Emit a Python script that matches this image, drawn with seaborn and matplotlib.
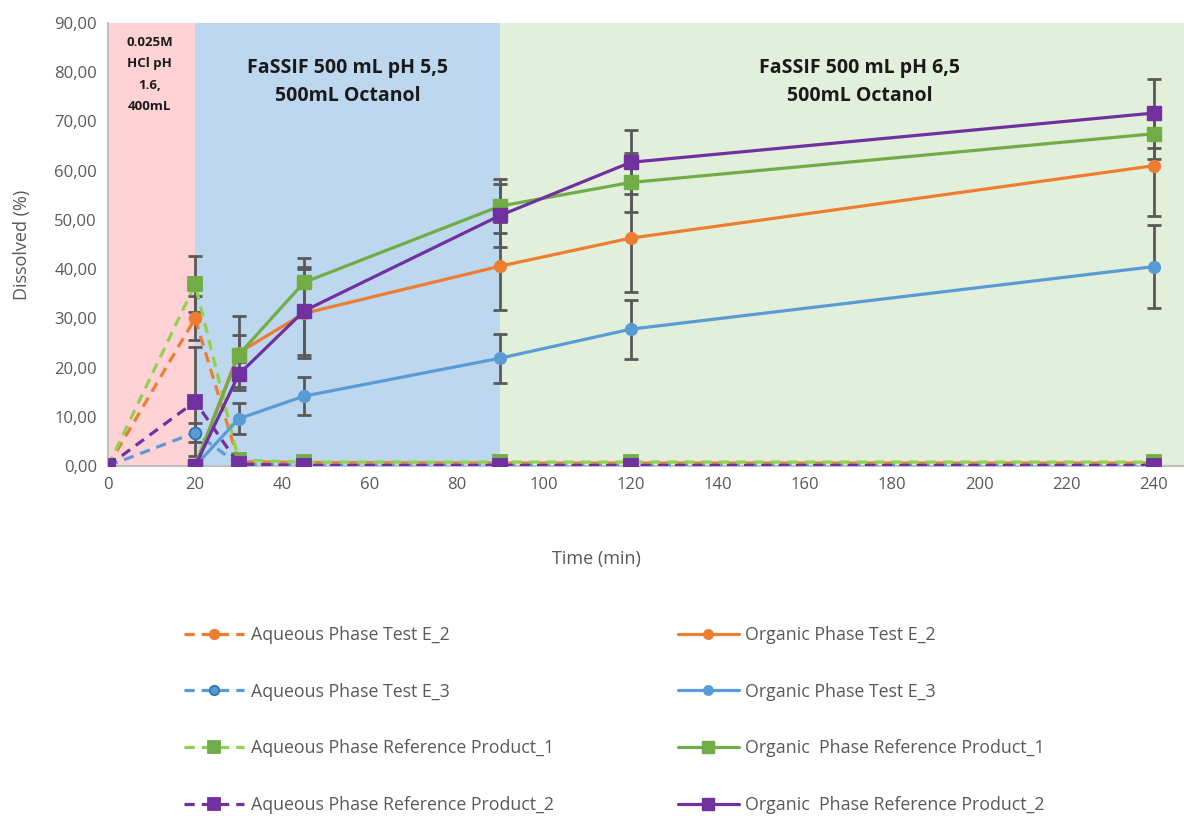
import matplotlib
matplotlib.use("Agg")
import matplotlib.pyplot as plt
import seaborn as sns
import numpy as np
import pandas as pd
from matplotlib.ticker import FuncFormatter

# ---------------- data ----------------
t_aq = [0, 20, 30, 45, 90, 120, 240]
t_org = [20, 30, 45, 90, 120, 240]

aq_e2 = [0, 30.0, 0.9, 0.7, 0.6, 0.6, 0.6]
aq_e3 = [0, 6.8, 0.3, 0.2, 0.2, 0.2, 0.2]
aq_r1 = [0, 36.9, 1.2, 0.8, 0.8, 0.8, 0.8]
aq_r2 = [0, 13.1, 0.4, 0.1, 0.1, 0.1, 0.1]

aq_e2_err = [0, 4.5, 0.2, 0.1, 0.1, 0.1, 0.1]
aq_e3_err = [0, 1.9, 0.1, 0.1, 0.1, 0.1, 0.1]
aq_r1_err = [0, 5.7, 0.2, 0.1, 0.1, 0.1, 0.1]
aq_r2_err = [0, 11.0, 0.1, 0.1, 0.1, 0.1, 0.1]

org_e2 = [0, 23.0, 31.0, 40.6, 46.3, 61.0]
org_e3 = [0, 9.6, 14.2, 21.9, 27.8, 40.5]
org_r1 = [0, 22.6, 37.3, 52.8, 57.6, 67.5]
org_r2 = [0, 18.6, 31.5, 50.9, 61.7, 71.7]

org_e2_err = [0, 7.5, 9.0, 9.0, 11.0, 10.3]
org_e3_err = [0, 3.1, 3.9, 5.0, 6.0, 8.4]
org_r1_err = [0, 4.0, 5.0, 5.5, 6.0, 5.2]
org_r2_err = [0, 2.5, 9.0, 6.4, 6.5, 7.0]

labels_aq = ["Aqueous Phase Test E_2", "Aqueous Phase Test E_3",
             "Aqueous Phase Reference Product_1", "Aqueous Phase Reference Product_2"]
labels_org = ["Organic Phase Test E_2", "Organic Phase Test E_3",
              "Organic  Phase Reference Product_1", "Organic  Phase Reference Product_2"]

phase_edges = [0, 20, 90, 247]
phase_colors = ["#FFD3D6", "#BDD7EE", "#E2EFDA"]

x_ticks = list(range(0, 241, 20))
y_ticks = list(range(0, 91, 10))

# ---------------- style ----------------
sns.set_theme(style="white")
plt.rcParams['font.family'] = ['Open Sans', 'DejaVu Sans']
txt = "#595959"

fig = plt.figure(figsize=(11.84, 8.16), dpi=100)
ax = fig.add_axes([108/1184, 1-466/816, 1-108/1184, (466-23)/816])

for i in range(3):
    ax.axvspan(phase_edges[i], phase_edges[i+1], color=phase_colors[i], lw=0, zorder=0)

errc = "#595959"

aq_series = [
    (aq_e2, aq_e2_err, "#ED7D31", "o", "#ED7D31", "#ED7D31", 8.5),
    (aq_e3, aq_e3_err, "#5B9BD5", "o", "#5B9BD5", "#2E75B6", 8.5),
    (aq_r1, aq_r1_err, "#92D050", "s", "#70AD47", "#70AD47", 10.5),
    (aq_r2, aq_r2_err, "#7030A0", "s", "#7030A0", "#7030A0", 10),
]
org_series = [
    (org_e2, org_e2_err, "#ED7D31", "o", "#ED7D31", "#ED7D31", 8.5),
    (org_e3, org_e3_err, "#5B9BD5", "o", "#5B9BD5", "#5B9BD5", 8.5),
    (org_r1, org_r1_err, "#70AD47", "s", "#70AD47", "#70AD47", 10.5),
    (org_r2, org_r2_err, "#7030A0", "s", "#7030A0", "#7030A0", 10),
]

for (y, e, c, m, mc, me, ms) in aq_series:
    ax.errorbar(t_aq, y, yerr=e, fmt="none", ecolor=errc, elinewidth=2, capsize=5, capthick=2, zorder=2)
for (y, e, c, m, mc, me, ms) in org_series:
    ax.errorbar(t_org, y, yerr=e, fmt="none", ecolor=errc, elinewidth=2, capsize=5, capthick=2, zorder=2)

for (y, e, c, m, mc, me, ms), lab in zip(aq_series, labels_aq):
    df = pd.DataFrame({"t": t_aq, "v": y})
    sns.lineplot(data=df, x="t", y="v", ax=ax, color=c, lw=2.3, linestyle=(0, (3.2, 2.2)),
                 marker=m, markersize=ms, markerfacecolor=mc,
                 markeredgecolor=me, markeredgewidth=1.3, zorder=3, label=lab)
for (y, e, c, m, mc, me, ms), lab in zip(org_series, labels_org):
    df = pd.DataFrame({"t": t_org, "v": y})
    sns.lineplot(data=df, x="t", y="v", ax=ax, color=c, lw=2.3,
                 marker=m, markersize=ms, markerfacecolor=mc,
                 markeredgecolor=me, markeredgewidth=1, zorder=4, label=lab)

ax.set_xlim(0, 247)
ax.set_ylim(0, 90)
ax.set_xticks(x_ticks)
ax.set_yticks(y_ticks)
ax.yaxis.set_major_formatter(FuncFormatter(lambda v, p: f"{v:.2f}".replace(".", ",")))
ax.tick_params(axis="both", colors=txt, labelsize=12, length=0, pad=8)
for s in ["top", "right"]:
    ax.spines[s].set_visible(False)
ax.spines["left"].set_color("#BFBFBF")
ax.spines["bottom"].set_color("#BFBFBF")
ax.spines["left"].set_linewidth(1.5)
ax.spines["bottom"].set_linewidth(1.5)
ax.grid(False)

ax.set_xlabel("Time (min)", color=txt, fontsize=13)
ax.set_ylabel("Dissolved (%)", color=txt, fontsize=13)
ax.xaxis.set_label_coords((596-108)/1076, -0.19)
ax.yaxis.set_label_coords(-0.072, 0.5)

ax.text(9.6, 79.5, "0.025M\nHCl pH\n1.6,\n400mL", ha="center", va="center",
        fontsize=9.5, fontweight="bold", color="#1a1a1a", linespacing=1.85, zorder=5)
ax.text(55, 78, "FaSSIF 500 mL pH 5,5\n500mL Octanol", ha="center", va="center",
        fontsize=14, fontweight="bold", color="#1a1a1a", linespacing=1.55, zorder=5)
ax.text(172.5, 78, "FaSSIF 500 mL pH 6,5\n500mL Octanol", ha="center", va="center",
        fontsize=14, fontweight="bold", color="#1a1a1a", linespacing=1.55, zorder=5)

h, l = ax.get_legend_handles_labels()
if ax.legend_:
    ax.legend_.remove()
fig.legend(h, l, ncol=2, loc="upper left", bbox_to_anchor=(168/1184, 1-610/816),
           frameon=False, fontsize=12.8, labelcolor=txt, handlelength=3.4,
           labelspacing=2.17, columnspacing=7.0, handletextpad=0.35, markerscale=0.8)

fig.savefig("out.png", dpi=100)
